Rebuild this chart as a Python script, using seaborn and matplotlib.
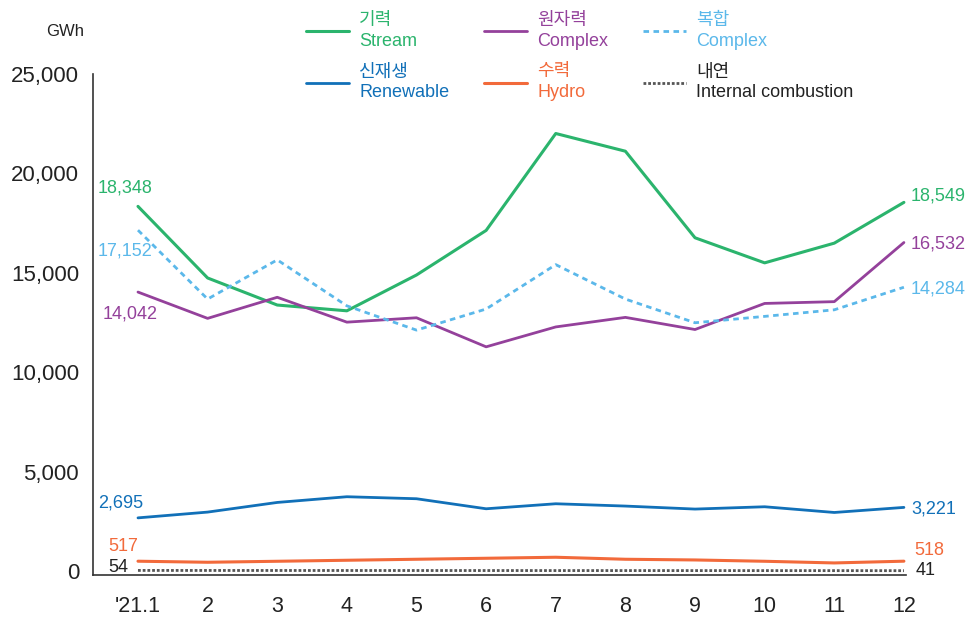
import matplotlib
matplotlib.use("Agg")
import matplotlib.pyplot as plt
import pandas as pd
import seaborn as sns

# Monthly generation by source, GWh (2021)
MONTHS = ["'21.1", "2", "3", "4", "5", "6", "7", "8", "9", "10", "11", "12"]
STREAM = [18348, 14750, 13390, 13100, 14900, 17140, 22010, 21120, 16770, 15510, 16500, 18549]
NUCLEAR = [14042, 12720, 13780, 12530, 12750, 11290, 12290, 12770, 12160, 13470, 13560, 16532]
COMBINED = [17152, 13690, 15660, 13350, 12130, 13190, 15420, 13690, 12500, 12820, 13150, 14284]
RENEWABLE = [2695, 2985, 3470, 3757, 3656, 3152, 3404, 3288, 3137, 3253, 2966, 3221]
HYDRO = [517, 464, 514, 565, 615, 665, 716, 615, 580, 514, 430, 518]
INTERNAL = [54, 52, 51, 50, 49, 48, 47, 46, 45, 44, 43, 41]

Y_TICKS = [0, 5000, 10000, 15000, 20000, 25000]

sns.set_style("white")
FAM = ["Liberation Sans", "Noto Sans CJK KR", "DejaVu Sans"]
plt.rcParams["font.family"] = FAM

# (korean, english, values, color, linestyle, linewidth, start offset, end offset)
series = [
    ("기력", "Stream", STREAM, "#2bb46d", "-", 2.2, (-40, 18), (7, 6)),
    ("원자력", "Complex", NUCLEAR, "#94419b", "-", 2.0, (-35, -22), (7, -1)),
    ("복합", "Complex", COMBINED, "#5bb8ea", (0, (2, 1.6)), 2.0, (-40, -21), (7, -2)),
    ("신재생", "Renewable", RENEWABLE, "#1170b8", "-", 2.0, (-40, 15), (7, -2)),
    ("수력", "Hydro", HYDRO, "#f26a3b", "-", 2.2, (-30, 15), (10, 11)),
    ("내연", "Internal combustion", INTERNAL, "#555555", (0, (1, 0.7)), 2.0, (-30, 3), (12, 0)),
]
# legend order: column-wise for ncol=3 with 2 rows
legend_order = [0, 3, 1, 4, 2, 5]
text_colors = ["#2bb46d", "#94419b", "#5bb8ea", "#1170b8", "#f26a3b", "#222222"]

fig = plt.figure(figsize=(9.7, 6.18), dpi=100)
ax = fig.add_axes([93 / 970, 1 - 575 / 618, (906 - 93) / 970, (575 - 74) / 618])

xs = list(range(len(MONTHS)))
handles = []
for kr, en, vals, color, ls, lw, start_off, end_off in series:
    df = pd.DataFrame({"month": xs, "gwh": vals})
    sns.lineplot(data=df, x="month", y="gwh", color=color, linestyle=ls, linewidth=lw, ax=ax,
                 label=f"{kr}\n{en}")
    handles.append(ax.lines[-1])
    lab_color = color if en != "Internal combustion" else "#222222"
    ax.annotate(f"{vals[0]:,}", (xs[0], vals[0]), xytext=start_off, textcoords="offset pixels",
                ha="left", va="center", fontsize=13, color=lab_color)
    ax.annotate(f"{vals[-1]:,}", (xs[-1], vals[-1]), xytext=end_off, textcoords="offset pixels",
                ha="left", va="center", fontsize=13, color=lab_color, annotation_clip=False)

ax.set_xlim(-0.646, 11.03)
ax.set_ylim(-176, 25000)
ax.set_xticks(xs)
ax.set_xticklabels(MONTHS, fontsize=15.5, color="#222222")
ax.set_yticks(Y_TICKS)
ax.set_yticklabels([f"{v:,}" for v in Y_TICKS], fontsize=16, color="#222222")
ax.set_xlabel("")
ax.set_ylabel("")

ax.tick_params(axis="x", direction="in", length=8, width=1.5, color="#a0a0a0", pad=15)
ax.tick_params(axis="y", direction="in", length=7, width=1.2, color="#333333", pad=10)
for side in ("top", "right"):
    ax.spines[side].set_visible(False)
for side in ("left", "bottom"):
    ax.spines[side].set_color("#333333")
    ax.spines[side].set_linewidth(1.2)

fig.text(65 / 970, 1 - 32 / 618, "GWh", ha="center", va="center", fontsize=12, color="#222222")

ax.get_legend().remove()
leg = fig.legend([handles[i] for i in legend_order],
                 [handles[i].get_label() for i in legend_order],
                 loc="upper left", bbox_to_anchor=(306 / 970, 1 - 12 / 618), ncol=3,
                 frameon=False, handlelength=2.4, handletextpad=0.55, columnspacing=1.92,
                 labelspacing=0.75, borderaxespad=0, borderpad=0,
                 prop={"size": 13})
for txt, i in zip(leg.get_texts(), legend_order):
    txt.set_color(text_colors[i])
    txt.set_linespacing(1.3)

fig.savefig("out.png", dpi=100)
